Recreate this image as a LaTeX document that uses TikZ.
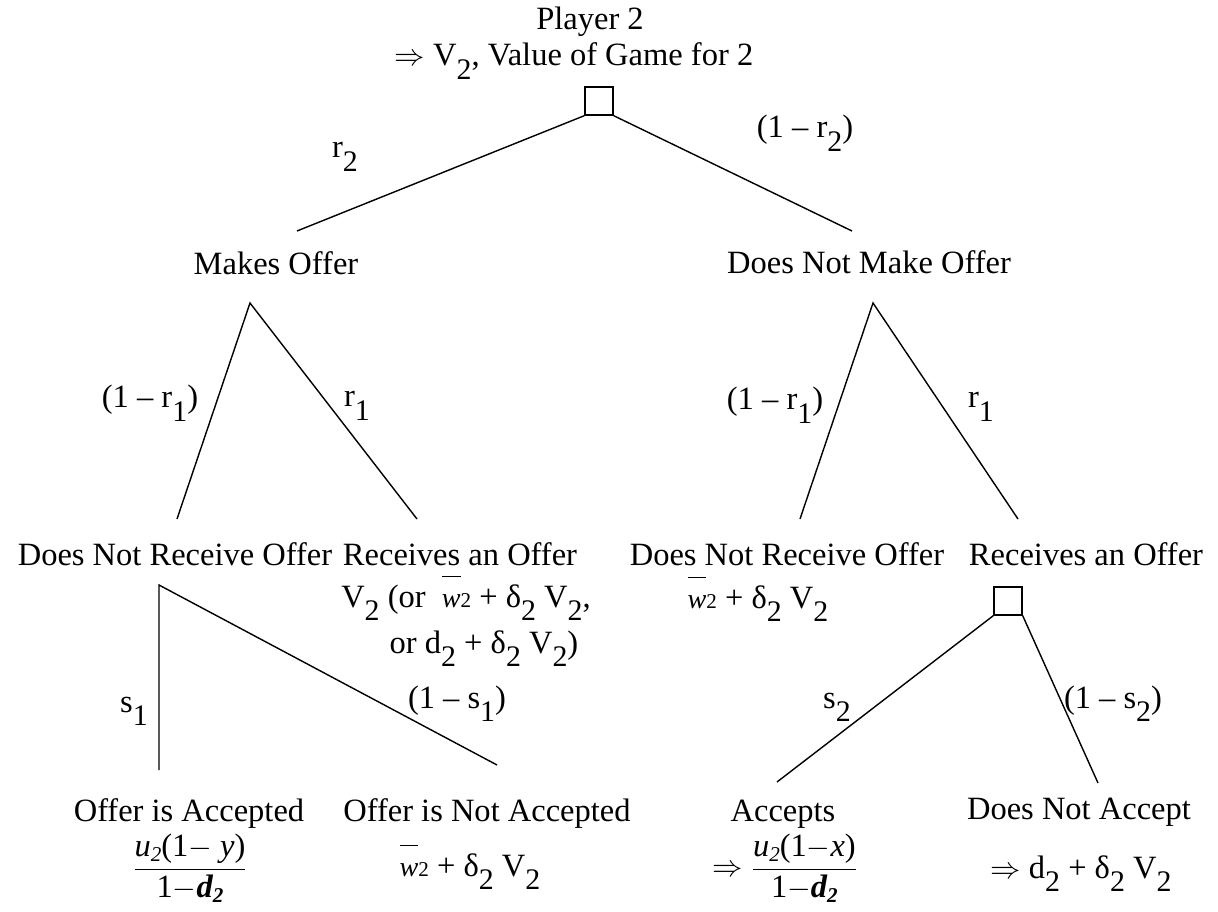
\documentclass[tikz,border=0pt]{standalone}
\usepackage{fontspec}
\setmainfont{Liberation Serif}
\usepackage{tikz}
\usetikzlibrary{positioning}
% lowered subscripts as in the printed tree
\newcommand{\lsub}[1]{\raisebox{-0.42em}{\fontsize{17}{17}\selectfont #1}}
\newcommand{\ssub}[1]{\raisebox{-0.15em}{\fontsize{12}{12}\selectfont #1}}
\newcommand{\wbar}{{\fontsize{16}{16}\selectfont$\overline{\raisebox{0pt}[1.0em]{\itshape w}}$\fontsize{12}{12}\selectfont 2}}
\tikzset{
  lbl/.style    ={font=\fontsize{18.5}{22}\selectfont,inner sep=0pt,anchor=base},
  pay/.style    ={font=\fontsize{18.5}{22}\selectfont,inner sep=0pt},
  dmove/.style  ={draw,line width=0.8pt,minimum size=0.56cm,inner sep=0pt},
  branch/.style ={line width=0.8pt},
}
\begin{document}
\begin{tikzpicture}[x=0.02cm,y=-0.02cm]
  \useasboundingbox (0,0) rectangle (1218,912);
  % root
  \node[lbl] (p2) at (590,30) {Player 2};
  \node[lbl] (val) at (574,66) {$\Rightarrow$ V\lsub{2}, Value of Game for 2};
  \node[dmove] (root) at (599,101) {};
  \coordinate (mo-top) at (297,231);
  \coordinate (dn-top) at (852,231);
  \draw[branch] (root.south west) -- (mo-top);
  \draw[branch] (root.south east) -- (dn-top);
  \node[lbl] (r2) at (345,158) {r\lsub{2}};
  \node[lbl] (nr2) at (805,138) {(1 – r\lsub{2})};
  \node[lbl] (mo) at (276,275) {Makes Offer};
  \node[lbl] (dn) at (869,274) {Does Not Make Offer};
  % second level, left
  \coordinate (mo-apex) at (250,303);
  \coordinate (mo-l) at (177,519);
  \coordinate (mo-r) at (417,519);
  \draw[branch] (mo-l) -- (mo-apex) -- (mo-r);
  \node[lbl] (mo-nr1) at (150,408) {(1 – r\lsub{1})};
  \node[lbl] (mo-r1) at (357,407) {r\lsub{1}};
  % second level, right
  \coordinate (dn-apex) at (873,303);
  \coordinate (dn-l) at (800,519);
  \coordinate (dn-r) at (1018,519);
  \draw[branch] (dn-l) -- (dn-apex) -- (dn-r);
  \node[lbl] (dn-nr1) at (775,410) {(1 – r\lsub{1})};
  \node[lbl] (dn-r1) at (981,408) {r\lsub{1}};
  % third level
  \node[lbl] (nrec1) at (175,565) {Does Not Receive Offer};
  \node[lbl] (rec1) at (460,565) {Receives an Offer};
  \node[lbl] (rec1-a) at (466,607) {V\lsub{2} (or \ \wbar\ + δ\lsub{2} V\lsub{2},};
  \node[lbl] (rec1-b) at (484,653) {or d\lsub{2} + δ\lsub{2} V\lsub{2})};
  \node[lbl] (nrec2) at (787,565) {Does Not Receive Offer};
  \node[lbl] (nrec2-a) at (758,608) {\wbar\ + δ\lsub{2} V\lsub{2}};
  \node[lbl] (rec2) at (1086,565) {Receives an Offer};
  % offer accepted or not
  \coordinate (nr-apex) at (159,585);
  \coordinate (nr-l) at (159,770);
  \coordinate (nr-r) at (497,765);
  \draw[branch] (nr-l) -- (nr-apex) -- (nr-r);
  \node[lbl] (s1) at (134,712) {s\lsub{1}};
  \node[lbl] (ns1) at (457,708) {(1 – s\lsub{1})};
  % accepts or not
  \node[dmove] (sq2) at (1008,601) {};
  \coordinate (ac-top) at (777,782);
  \coordinate (na-top) at (1098,783);
  \draw[branch] (sq2.south west) -- (ac-top);
  \draw[branch] (sq2.south east) -- (na-top);
  \node[lbl] (s2) at (837,708) {s\lsub{2}};
  \node[lbl] (ns2) at (1113,708) {(1 – s\lsub{2})};
  % bottom row
  \node[lbl] (oac) at (189,821) {Offer is Accepted};
  \node[pay] (oac-pay) at (190,868) {$\displaystyle\frac{\mbox{\itshape u\ssub{2}\upshape(1$-$ \itshape y\upshape)}}{\mbox{1$-$\bfseries\itshape d\ssub{2}}}$};
  \node[lbl] (ona) at (487,821) {Offer is Not Accepted};
  \node[lbl] (ona-pay) at (470,876) {\wbar\ + δ\lsub{2} V\lsub{2}};
  \node[lbl] (acc) at (783,821) {Accepts};
  \node[pay] (acc-pay) at (785,868) {$\Rightarrow\displaystyle\frac{\mbox{\itshape u\ssub{2}\upshape(1$-$\itshape x\upshape)}}{\mbox{1$-$\bfseries\itshape d\ssub{2}}}$};
  \node[lbl] (nac) at (1079,819) {Does Not Accept};
  \node[lbl] (nac-pay) at (1081,878) {$\Rightarrow$ d\lsub{2} + δ\lsub{2} V\lsub{2}};
\end{tikzpicture}
\end{document}
